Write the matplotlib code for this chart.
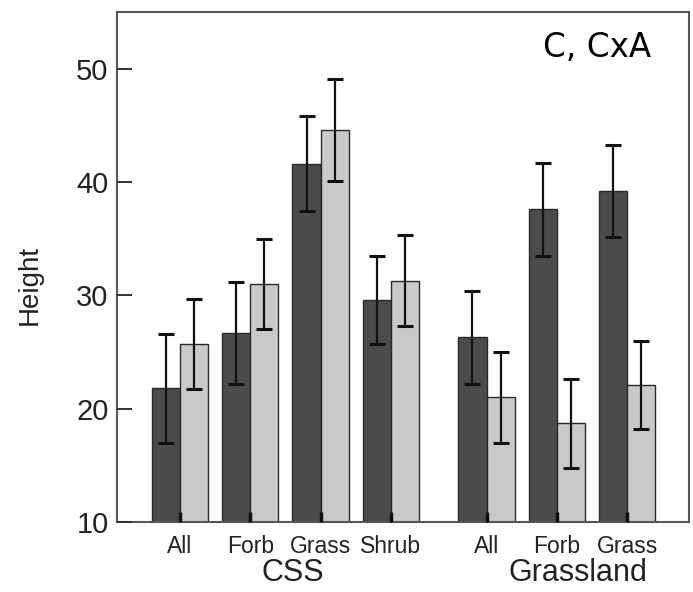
import numpy as np
import matplotlib
matplotlib.use("Agg")
import matplotlib.pyplot as plt

# Plant height by functional group, two treatments per group
categories = ["All", "Forb", "Grass", "Shrub", "All", "Forb", "Grass"]
habitats = ["CSS", "Grassland"]
habitat_sizes = [4, 3]

dark_mean = [21.8, 26.7, 41.6, 29.6, 26.3, 37.6, 39.2]
dark_err = [4.8, 4.5, 4.2, 3.9, 4.1, 4.1, 4.05]
light_mean = [25.7, 31.0, 44.6, 31.3, 21.0, 18.7, 22.1]
light_err = [4.0, 4.0, 4.5, 4.0, 4.0, 3.9, 3.9]

yticks = [10, 20, 30, 40, 50]

# group positions: the two habitats are separated by an extra gap
gap = 0.36
pos = []
x = 0.0
for h, n in enumerate(habitat_sizes):
    for i in range(n):
        pos.append(x)
        x += 1
    x += gap
pos = np.array(pos)
w = 0.40

fig = plt.figure(figsize=(6.93, 5.92), dpi=100)
ax = fig.add_axes([0.1688, 0.1182, 0.9942 - 0.1688, 0.9797 - 0.1182])
ax.set_axisbelow(False)

ekw = dict(ecolor="#111111", elinewidth=1.6, capsize=6, capthick=2.2)
ax.bar(pos - w / 2, np.array(dark_mean) - 10, width=w, bottom=10,
       color="#4b4b4b", edgecolor="#2a2a2a", linewidth=1.0,
       yerr=dark_err, error_kw=ekw, zorder=2)
ax.bar(pos + w / 2, np.array(light_mean) - 10, width=w, bottom=10,
       color="#c9c9c9", edgecolor="#2a2a2a", linewidth=1.0,
       yerr=light_err, error_kw=ekw, zorder=2)

ax.set_ylim(10, 55)
ax.set_xlim(-0.896, 7.24)
ax.set_yticks(yticks)
ax.set_xticks(pos)
ax.set_xticklabels(categories, fontsize=16.5, family="Liberation Sans",
                   color="#222222")
for lab in ax.get_yticklabels():
    lab.set_fontsize(21)
    lab.set_family("Liberation Sans")
    lab.set_color("#222222")

ax.tick_params(axis="y", direction="in", length=11, width=1.4,
               color="#333333", pad=6)
ax.tick_params(axis="x", direction="in", length=7, width=2.5,
               color="#111111", pad=9)
for s in ax.spines.values():
    s.set_linewidth(1.5)
    s.set_color("#555555")

# habitat labels under the category labels
hab_x = [1.61, 5.66]
for hx, name in zip(hab_x, habitats):
    ax.text(hx, -0.1, name, transform=ax.get_xaxis_transform(),
            ha="center", va="center", fontsize=22,
            family="Liberation Sans", color="#222222")

fig.text(0.043, 1 - 285 / 592, "Height", rotation=90, ha="center",
         va="center", fontsize=20, family="Liberation Sans",
         color="#222222")

ax.text(0.839, 0.931, "C, CxA", transform=ax.transAxes, ha="center",
        va="center", fontsize=23.5, family="DejaVu Sans", color="black")

fig.savefig("out.png", dpi=100)
